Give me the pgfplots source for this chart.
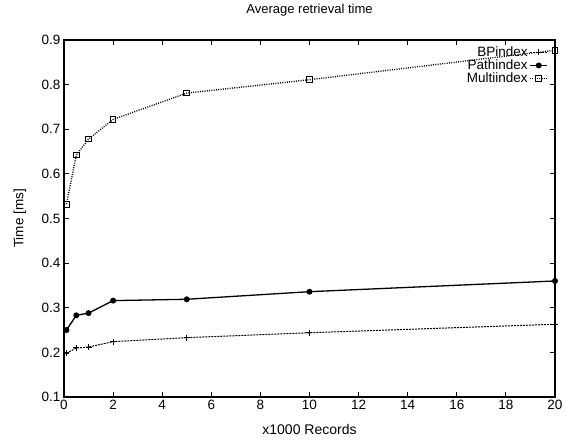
\documentclass[border=0pt]{standalone}
\usepackage{fontspec}
\setmainfont{Liberation Sans}
\usepackage{pgfplots}
\pgfplotsset{compat=1.18}
\begin{document}
\begin{tikzpicture}
\useasboundingbox (-64pt,-45pt) rectangle (502pt,397pt);
\begin{axis}[
  scale only axis,
  width=491pt, height=357pt,
  xmin=0, xmax=20, ymin=0.1, ymax=0.9,
  xtick={0,2,...,20},
  ytick={0.1,0.2,0.3,0.4,0.5,0.6,0.7,0.8,0.9},
  yticklabel style={/pgf/number format/fixed,/pgf/number format/fixed zerofill,/pgf/number format/precision=1},
  /pgf/number format/assume math mode=true,
  tick align=inside,
  major tick length=5pt,
  tick style={black, line width=0.8pt},
  axis line style={line width=1.2pt},
  ticklabel style={font=\fontsize{13.5}{13.5}\selectfont},
  title={Average retrieval time},
  title style={at={(axis description cs:0.5,1.068)}, anchor=center, font=\fontsize{13}{13}\selectfont},
  xlabel={x1000 Records},
  xlabel style={at={(axis description cs:0.5,-0.0924)}, anchor=center, font=\fontsize{14}{14}\selectfont},
  ylabel={Time  [ms]},
  ylabel style={at={(axis description cs:-0.0896,0.5)}, anchor=center, font=\fontsize{13.5}{13.5}\selectfont},
  legend style={at={(axis description cs:0.986,0.988)}, anchor=north east, draw=none, fill=none,
    font=\fontsize{13.5}{13.5}\selectfont, row sep=-2pt, inner sep=0pt},
  legend cell align=right,
  legend plot pos=right,
]
\addplot[black, line width=1pt, dash pattern=on 2pt off 1pt, mark=+, mark size=3pt, mark options={solid}]
  coordinates {(0.1,0.198) (0.5,0.210) (1,0.212) (2,0.224) (5,0.233) (10,0.244) (20,0.263)};
\addlegendentry{BPindex}
\addplot[black, line width=1.3pt, mark=*, mark size=2.3pt]
  coordinates {(0.1,0.250) (0.5,0.283) (1,0.288) (2,0.316) (5,0.319) (10,0.336) (20,0.360)};
\addlegendentry{Pathindex}
\addplot[black, line width=1.3pt, dash pattern=on 1pt off 1.3pt, mark=square, mark size=2.8pt, mark options={solid, line width=1pt}]
  coordinates {(0.1,0.532) (0.5,0.642) (1,0.678) (2,0.722) (5,0.781) (10,0.811) (20,0.877)};
\addlegendentry{Multiindex}
\end{axis}
\end{tikzpicture}
\end{document}
